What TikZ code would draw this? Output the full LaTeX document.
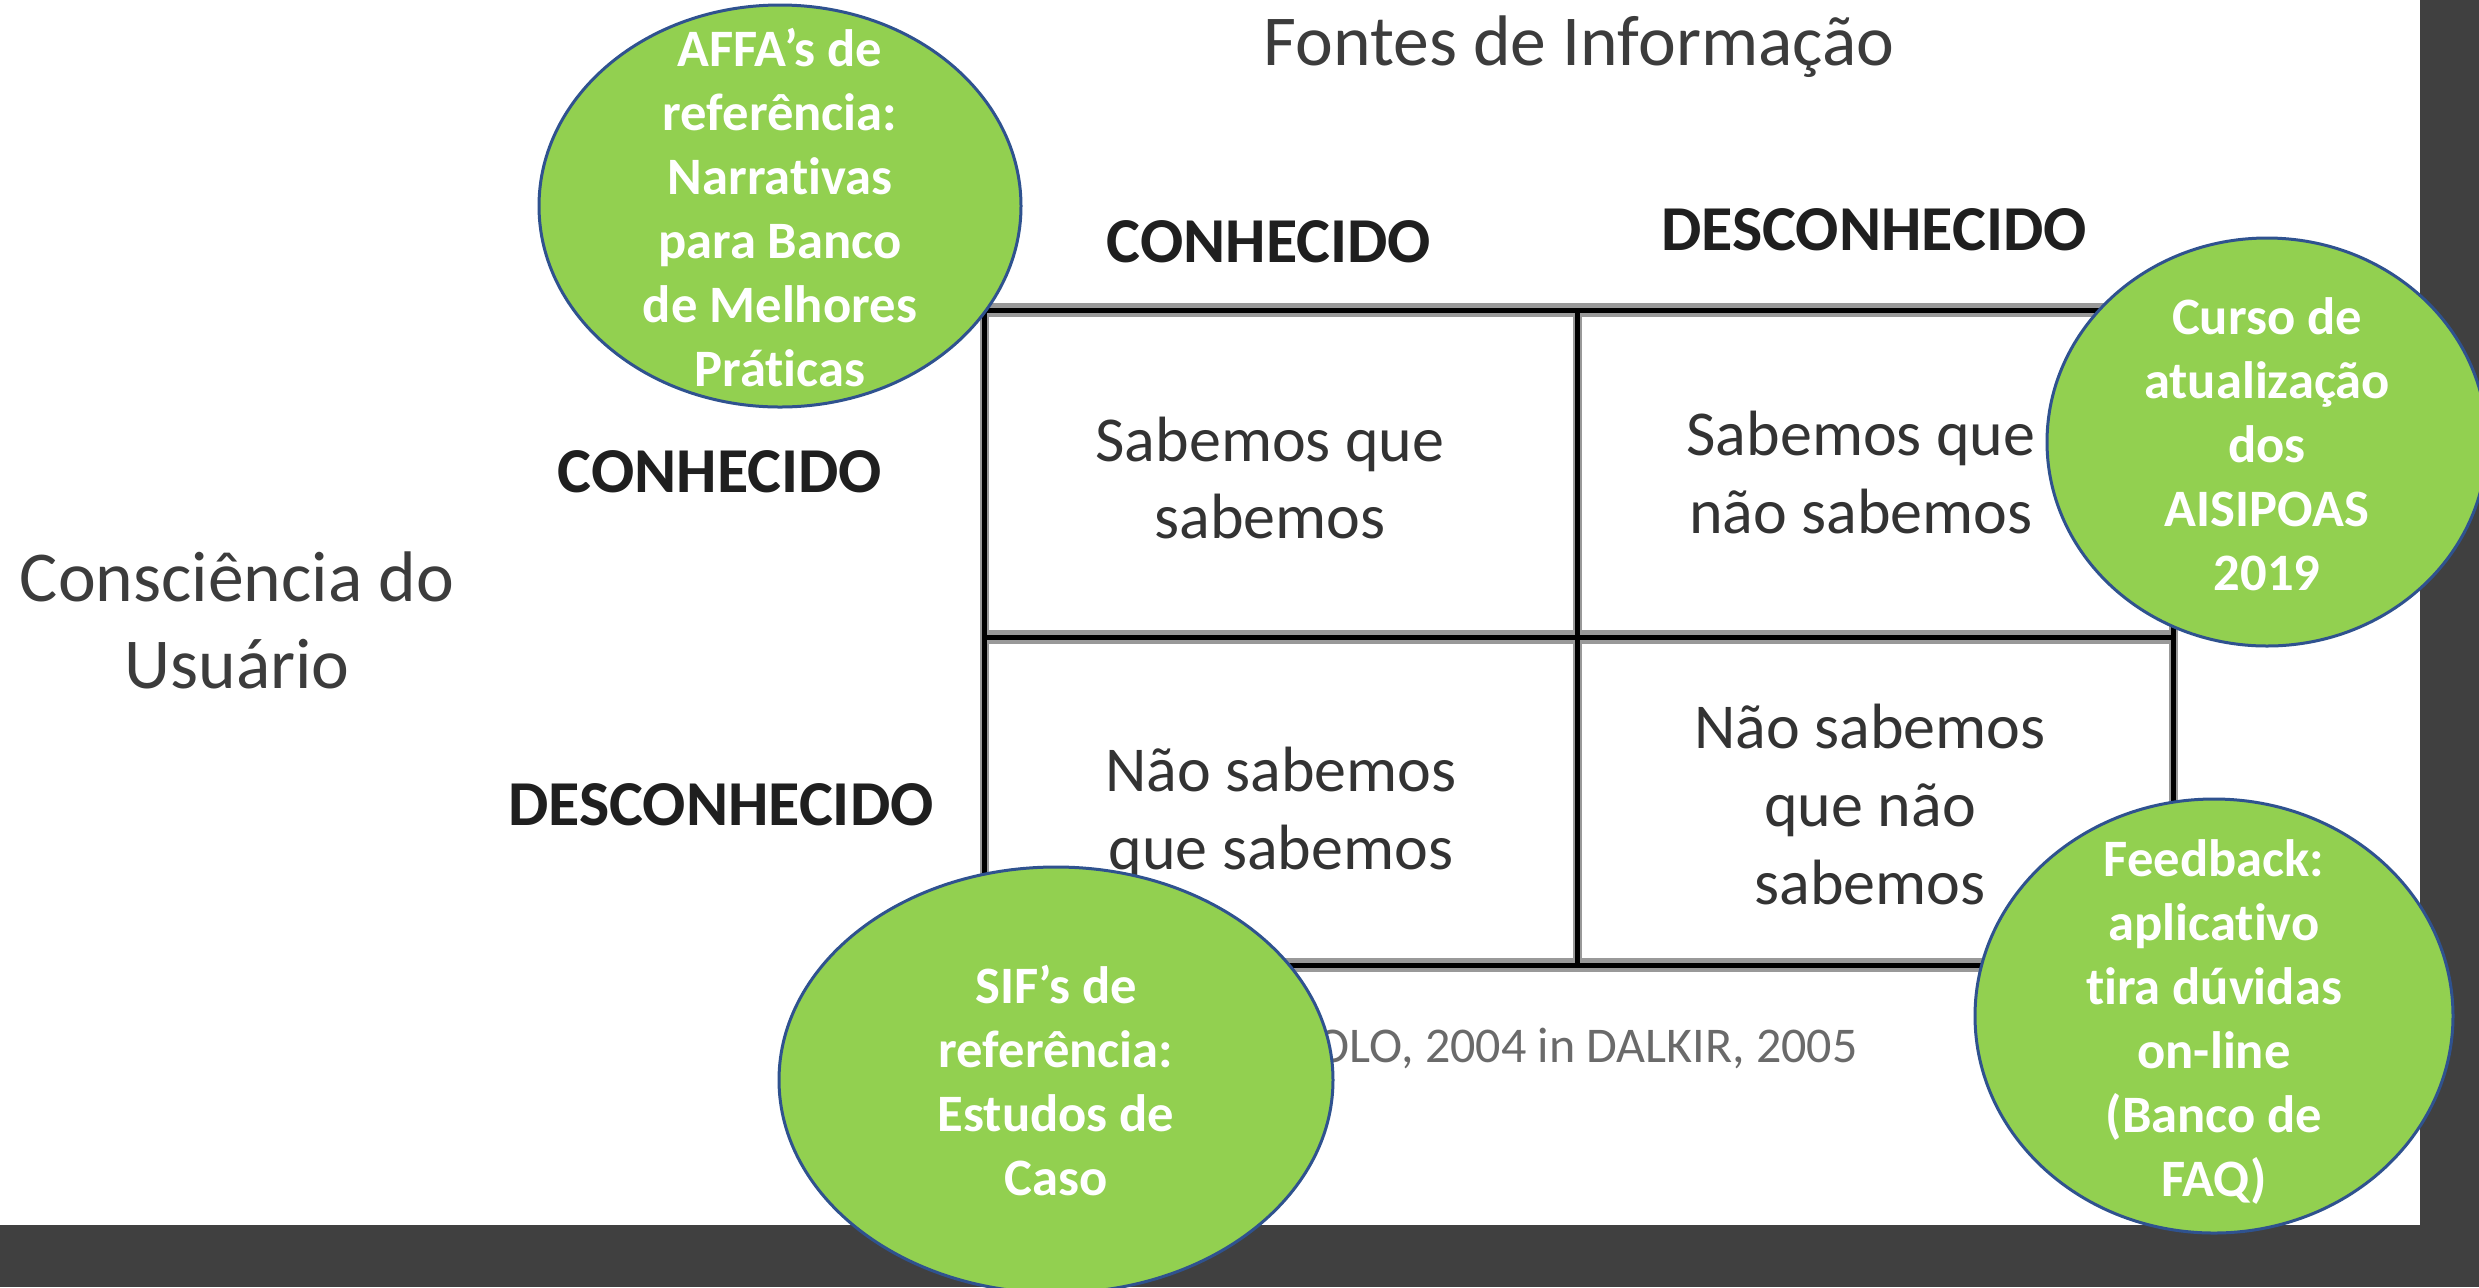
\documentclass[tikz,border=0pt]{standalone}
\usepackage{fontspec}
\setmainfont{Carlito}[Ligatures=NoCommon]
\usetikzlibrary{shapes.geometric}
\definecolor{bubblegreen}{HTML}{92D050}
\definecolor{bubbleedge}{HTML}{2F528F}
\definecolor{stripgray}{HTML}{404040}
\definecolor{labelgray}{HTML}{3C3C3C}
\definecolor{captiongray}{HTML}{6A6A6A}
\begin{document}
\begin{tikzpicture}[x=0.5pt,y=-0.5pt,
  bubble/.style={ellipse, fill=bubblegreen, draw=bubbleedge, line width=1.5pt, inner sep=0pt},
  bubbletext/.style={text=white, font=\fontsize{26.3}{32}\selectfont\bfseries, align=center, inner sep=0pt},
  header/.style={font=\fontsize{32}{38}\selectfont\bfseries, text=black!88, inner sep=0pt, anchor=base},
  celltext/.style={font=\fontsize{32}{39}\selectfont, text=black!80, align=center, inner sep=0pt},
  hshadow/.style={draw=black!40, line width=7pt},
  vshadow/.style={draw=black!40, line width=4.5pt},
  gridline/.style={draw=black, line width=2.5pt},
]
\useasboundingbox (0,0) rectangle (2479,1287);
\fill[white] (0,0) rectangle (2479,1287);
% dark strips
\fill[stripgray] (2420,0) rectangle (2479,1287);
\fill[stripgray] (0,1225) rectangle (2479,1287);

% grid corners
\coordinate (g11) at (984,310);  \coordinate (g12) at (1577,310);  \coordinate (g13) at (2173,310);
\coordinate (g21) at (984,637);  \coordinate (g22) at (1577,637);  \coordinate (g23) at (2173,637);
\coordinate (g31) at (984,965);  \coordinate (g32) at (1577,965);  \coordinate (g33) at (2173,965);

\foreach \a/\b in {g11/g31,g12/g32,g13/g33} \draw[vshadow] (\a) -- (\b);
\foreach \a/\b in {g11/g13,g21/g23,g31/g33} \draw[hshadow] (\a) -- (\b);
\foreach \a/\b in {g11/g31,g12/g32,g13/g33,g11/g13,g21/g23,g31/g33} \draw[gridline] (\a) -- (\b);

% titles
\node[anchor=base, inner sep=0pt, text=labelgray, font=\fontsize{35.8}{42}\selectfont] (title) at (1579,65) {Fontes de Informação};
\node[header] (colknown) at (1269,262) {CONHECIDO};
\node[header] (colunknown) at (1874,250) {DESCONHECIDO};
\node[header] (rowknown) at (720,492) {CONHECIDO};
\node[header] (rowunknown) at (721,825) {DESCONHECIDO};
\node[text=labelgray, font=\fontsize{35.8}{43.5}\selectfont, align=center, inner sep=0pt] (axis) at (237,620) {Consciência do\\Usuário};

% cells
\node[celltext] (c11) at (1270,478) {Sabemos que\\sabemos};
\node[celltext] (c12) at (1861,473) {Sabemos que\\não sabemos};
\node[celltext] (c21) at (1281,813) {Não sabemos\\que sabemos};
\node[celltext] (c22) at (1870,804) {Não sabemos\\que não\\sabemos};

% caption
\node[anchor=base east, inner sep=0pt, text=captiongray, font=\fontsize{25}{30}\selectfont] (caption) at (1858,1062) {OLO, 2004 in DALKIR, 2005};

% bubbles
\node[bubble, minimum width=241pt, minimum height=201pt] (affa) at (780,206) {};
\node[bubbletext] (affat) at (780,208) {AFFA’s de\\referência:\\Narrativas\\para Banco\\de Melhores\\Práticas};

\node[bubble, minimum width=277pt, minimum height=213pt] (sif) at (1056,1080) {};
\node[bubbletext] (sift) at (1056,1081) {SIF’s de\\referência:\\Estudos de\\Caso};

\node[bubble, minimum width=220pt, minimum height=204pt] (curso) at (2267,442) {};
\node[bubbletext] (cursot) at (2267,444) {Curso de\\atualização\\dos\\AISIPOAS\\2019};

\node[bubble, minimum width=239pt, minimum height=217pt] (feed) at (2214,1016) {};
\node[bubbletext] (feedt) at (2214,1022) {Feedback:\\aplicativo\\tira dúvidas\\on-line\\(Banco de\\FAQ)};
\end{tikzpicture}
\end{document}
